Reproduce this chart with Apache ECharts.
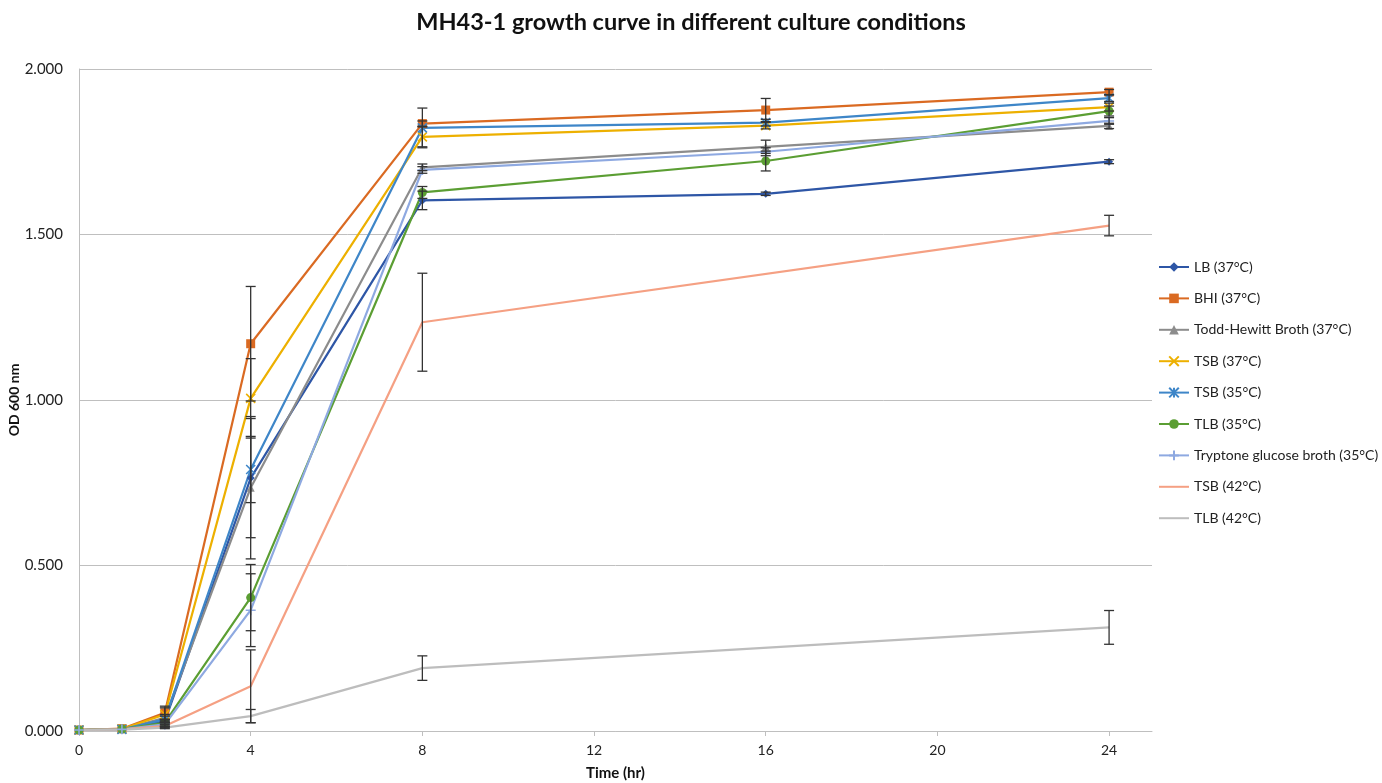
<!DOCTYPE html>
<html>
<head>
<meta charset="utf-8">
<title>MH43-1 growth curve</title>
<script src="https://cdn.jsdelivr.net/npm/echarts@6/dist/echarts.min.js"></script>
</head>
<body style="margin:0;padding:0;background:#fff">
<div id="chart" style="width:1382px;height:783px"></div>
<script>
// sampling times (hr)
var times = [0, 1, 2, 4, 8, 16, 24];
var xTicks = [0, 4, 8, 12, 16, 20, 24];

// OD600 means, aligned with times (null = no point)
var lb37   = [0.003, 0.005, 0.030, 0.764, 1.603, 1.623, 1.720];
var bhi37  = [0.003, 0.007, 0.055, 1.170, 1.835, 1.876, 1.930];
var thb37  = [0.003, 0.005, 0.040, 0.735, 1.703, 1.765, 1.828];
var tsb37  = [0.003, 0.006, 0.050, 1.005, 1.795, 1.829, 1.885];
var tsb35  = [0.003, 0.005, 0.035, 0.790, 1.822, 1.838, 1.912];
var tlb35  = [0.003, 0.006, 0.025, 0.403, 1.627, 1.722, 1.873];
var tgb35  = [0.003, 0.005, 0.020, 0.365, 1.695, 1.750, 1.843];
var tsb42  = [0.003, 0.005, 0.015, 0.135, 1.235, null, 1.527];
var tlb42  = [0.003, 0.004, 0.010, 0.045, 0.190, null, 0.313];

// error bar half widths (sd)
var lb37Err  = [0, 0, 0.005, 0.180, 0.028, 0.005, 0.006];
var bhi37Err = [0, 0, 0.020, 0.173, 0.008, 0.035, 0.008];
var thb37Err = [0, 0, 0.010, 0.215, 0.010, 0.020, 0.008];
var tsb37Err = [0, 0, 0.020, 0.120, 0.030, 0.010, 0.012];
var tsb35Err = [0, 0, 0.010, 0.100, 0.060, 0.010, 0.010];
var tlb35Err = [0, 0, 0.010, 0.100, 0.018, 0.030, 0.015];
var tgb35Err = [0, 0, 0.005, 0.110, 0.010, 0.012, 0.010];
var tsb42Err = [0, 0, 0.005, 0.110, 0.148, null, 0.031];
var tlb42Err = [0, 0, 0.003, 0.020, 0.037, null, 0.051];

var names = ['LB (37°C)', 'BHI (37°C)', 'Todd-Hewitt Broth (37°C)', 'TSB (37°C)', 'TSB (35°C)',
  'TLB (35°C)', 'Tryptone glucose broth (35°C)', 'TSB (42°C)', 'TLB (42°C)'];
var means = [lb37, bhi37, thb37, tsb37, tsb35, tlb35, tgb35, tsb42, tlb42];
var errs = [lb37Err, bhi37Err, thb37Err, tsb37Err, tsb35Err, tlb35Err, tgb35Err, tsb42Err, tlb42Err];

var colors = ['#2E56A6', '#DA6A22', '#8C8C8C', '#EDB000', '#3E86C8', '#5B9E33', '#8EA9E1', '#F5A083', '#BDBDBD'];
var symbols = [
  'diamond', 'rect', 'triangle',
  'path://M0,0L10,10M10,0L0,10',
  'path://M0,0L10,10M10,0L0,10M5,0L5,10',
  'circle',
  'path://M5,0L5,10M0,5L10,5',
  'none', 'none'
];
var symSizes = [8, 9, 8, 9, 9, 9, 10, 0, 0];

var font = 'Lato, "Liberation Sans", sans-serif';

var series = [];
means.forEach(function (vals, i) {
  var pts = [];
  vals.forEach(function (v, k) { if (v !== null) pts.push([times[k], v]); });
  var path = symbols[i].indexOf('path://') === 0;
  series.push({
    name: names[i],
    type: 'line',
    data: pts,
    symbol: symbols[i],
    symbolSize: symSizes[i],
    showSymbol: symbols[i] !== 'none',
    color: colors[i],
    itemStyle: path ? { color: colors[i], borderColor: colors[i], borderWidth: 1.6 } : { color: colors[i] },
    lineStyle: { width: 2.2, color: colors[i] },
    emphasis: { disabled: true },
    z: 2
  });
});

// error bars
var barData = [];
means.forEach(function (vals, i) {
  vals.forEach(function (v, k) {
    var e = errs[i][k];
    if (v !== null && e) barData.push([times[k], v - e, v + e]);
  });
});
series.push({
  type: 'custom',
  name: 'err',
  data: barData,
  z: 3,
  silent: true,
  renderItem: function (params, api) {
    var x = api.value(0);
    var lo = api.coord([x, api.value(1)]);
    var hi = api.coord([x, api.value(2)]);
    var w = 5;
    var st = { stroke: '#333', lineWidth: 1.3 };
    return {
      type: 'group',
      children: [
        { type: 'line', shape: { x1: lo[0], y1: lo[1], x2: hi[0], y2: hi[1] }, style: st },
        { type: 'line', shape: { x1: lo[0] - w, y1: lo[1], x2: lo[0] + w, y2: lo[1] }, style: st },
        { type: 'line', shape: { x1: hi[0] - w, y1: hi[1], x2: hi[0] + w, y2: hi[1] }, style: st }
      ]
    };
  }
});

var legendData = names.map(function (n, i) {
  return symbols[i] === 'none' ? { name: n, itemStyle: { opacity: 0 } } : { name: n };
});

var chart = echarts.init(document.getElementById('chart'));
chart.setOption({
  animation: false,
  backgroundColor: '#fff',
  textStyle: { fontFamily: font },
  title: {
    text: 'MH43-1 growth curve in different culture conditions',
    left: 'center',
    top: 5,
    textStyle: { fontSize: 23.5, fontWeight: 'bold', color: '#111', fontFamily: font }
  },
  grid: { left: 79, right: 230, top: 69, bottom: 52, outerBoundsMode: 'none' },
  legend: {
    data: legendData,
    orient: 'vertical',
    left: 1153,
    top: 255,
    itemWidth: 30,
    itemHeight: 12,
    itemGap: 17.4,
    textStyle: { fontSize: 14, color: '#222', fontFamily: font },
    selectedMode: false
  },
  xAxis: {
    type: 'value',
    min: 0,
    max: 25,
    name: 'Time (hr)',
    nameLocation: 'middle',
    nameGap: 35,
    nameMoveOverlap: false,
    nameTextStyle: { fontSize: 15, fontWeight: 'bold', color: '#111' },
    axisLine: { lineStyle: { color: '#BFBFBF', width: 1 } },
    axisTick: { show: true, length: 5, lineStyle: { color: '#BFBFBF' }, customValues: xTicks },
    axisLabel: { fontSize: 14, color: '#222', margin: 12, customValues: xTicks },
    splitLine: { show: false }
  },
  yAxis: {
    type: 'value',
    min: 0,
    max: 2,
    interval: 0.5,
    name: 'OD 600 nm',
    nameLocation: 'middle',
    nameGap: 58,
    nameMoveOverlap: false,
    nameTextStyle: { fontSize: 14, fontWeight: 'bold', color: '#111' },
    axisLine: { show: true, lineStyle: { color: '#BFBFBF', width: 1 } },
    axisTick: { show: false },
    axisLabel: {
      fontSize: 15, color: '#222', margin: 16,
      formatter: function (v) { return v.toFixed(3); }
    },
    splitLine: { lineStyle: { color: '#BFBFBF', width: 1 } }
  },
  series: series
});
</script>
</body>
</html>
